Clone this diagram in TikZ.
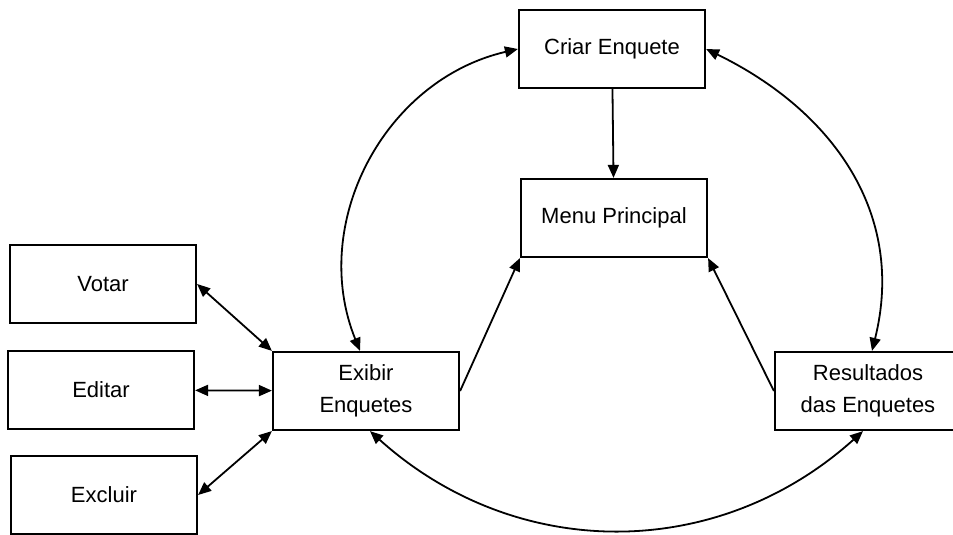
\documentclass[tikz,border=0pt]{standalone}
\usepackage{fontspec}
\setmainfont{Liberation Sans}
\usetikzlibrary{arrows.meta}

\begin{document}
\begin{tikzpicture}[x=0.5pt,y=0.5pt,
    >={Triangle[length=6.5pt,width=5.5pt]},
    box/.style={draw,line width=1.1pt,minimum width=93pt,minimum height=39pt,
        inner sep=0pt,align=center,font=\fontsize{11}{16}\selectfont},
    link/.style={line width=0.9pt}]
    %\draw[help lines] (0,0) grid[step=50] (953,535);
    \clip (0,0) rectangle (953,535);

    \node[box] (criar) at (612,486) {Criar Enquete};
    \node[box] (menu) at (614,317) {Menu Principal};
    \node[box] (votar) at (103,251) {Votar};
    \node[box] (editar) at (101,145) {Editar};
    \node[box] (excluir) at (104,40) {Excluir};
    \node[box] (exibir) at (366,144) {Exibir\\Enquetes};
    \node[box] (result) at (868,144) {Resultados\\das Enquetes};

    % straight links into the menu
    \draw[link,->] (criar) -- (menu);
    \draw[link,->] (exibir.east) -- (menu.south west);
    \draw[link,->] (result.west) -- (menu.south east);

    % actions on the poll list
    \draw[link,<->] (votar.east) -- (exibir.north west);
    \draw[link,<->] (editar) -- (exibir);
    \draw[link,<->] (excluir.east) -- (exibir.south west);

    % outer ring
    \draw[link,<->] (criar.west) to[out=193,in=112,looseness=1.03] ([xshift=-3pt]exibir.north);
    \draw[link,<->] (criar.east) to[out=-26,in=76,looseness=1.05] ([xshift=2pt]result.north);
    \draw[link,<->] ([xshift=2pt]exibir.south) to[out=-42,in=-138,looseness=1.02] ([xshift=-2.5pt]result.south);
\end{tikzpicture}
\end{document}
